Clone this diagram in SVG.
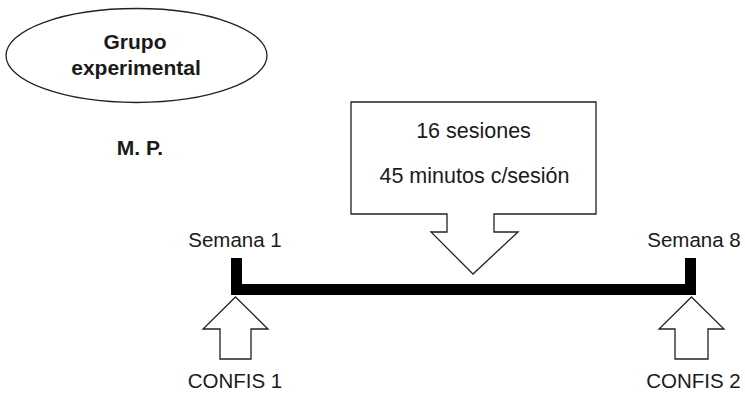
<svg xmlns="http://www.w3.org/2000/svg" width="745" height="394" viewBox="0 0 745 394">
<style>
.t{font-family:"Liberation Sans",Arial,sans-serif;font-size:20.5px;fill:#1a1a1a;text-anchor:middle}
.tb{font-size:21.5px}
.b{font-family:"Liberation Sans",Arial,sans-serif;font-size:21px;font-weight:bold;fill:#1a1a1a;text-anchor:middle}
.shape{fill:#fff;stroke:#222;stroke-width:1.3}
.bar{fill:none;stroke:#000;stroke-width:11;stroke-linejoin:miter;stroke-linecap:butt}
</style>
<rect width="745" height="394" fill="#fff"/>
<g id="grupo">
<ellipse class="shape" cx="136.5" cy="55.5" rx="130.5" ry="47"/>
<text class="b" x="135" y="49">Grupo</text>
<text class="b" x="136" y="75">experimental</text>
</g>
<g id="mp">
<text class="b" x="140" y="155">M. P.</text>
</g>
<g id="sesiones">
<path class="shape" d="M351,102 H596 V214 H494 V232 H518 L473,274 L431,232 H447 V214 H351 Z"/>
<text class="t tb" x="473.5" y="138">16 sesiones</text>
<text class="t tb" x="474.5" y="183">45 minutos c/sesión</text>
</g>
<g id="connectors">
<path class="bar" d="M236.5,258 V289.5 H690.5 V258"/>
</g>
<g id="semana1">
<text class="t" x="235" y="247">Semana 1</text>
</g>
<g id="semana8">
<text class="t" x="694" y="247">Semana 8</text>
</g>
<g id="confis1">
<path class="shape" d="M235.5,297 L268,329 H251 V359 H220 V329 H203 Z"/>
<text class="t" x="235" y="388">CONFIS 1</text>
</g>
<g id="confis2">
<path class="shape" d="M691.5,297 L724,329 H708 V359 H675 V329 H659 Z"/>
<text class="t" x="693.5" y="388">CONFIS 2</text>
</g>
</svg>
